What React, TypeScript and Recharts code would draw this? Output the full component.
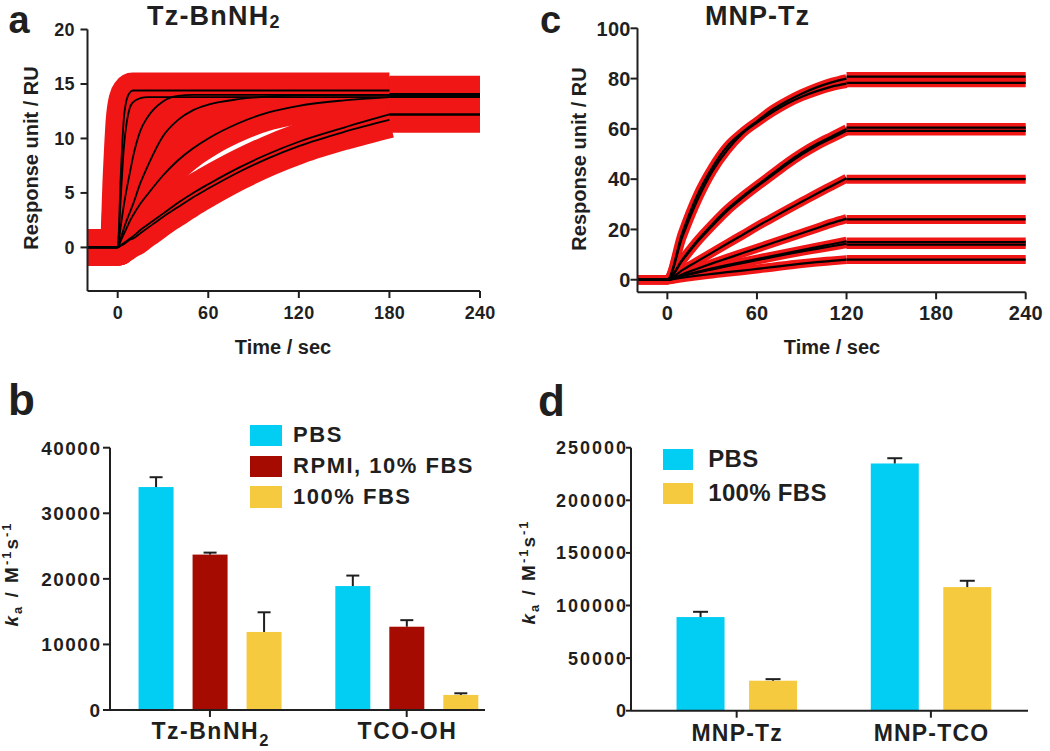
import React from 'react';
import { LineChart, Line, XAxis, YAxis, BarChart, Bar, Legend } from 'recharts';

const FONT = '"Liberation Sans", Arial, Helvetica, sans-serif';
const INK = '#1f1f1f';
const RED = '#f01616';
const CYAN = '#02CDF3';
const DARKRED = '#A60B02';
const YELLOW = '#F6CA3F';

// ---------- Panel a : Tz-BnNH2 sensorgram ----------
const timesA = [-20, 0, 2, 4, 6, 8, 10, 15, 20, 30, 40, 50, 60, 80, 100, 120, 150, 180];
const fitA1 = [0, 0, 6.5, 11.7, 13.6, 14.2, 14.4, 14.4, 14.4, 14.4, 14.4, 14.4, 14.4, 14.4, 14.4, 14.4, 14.4, 14.4];
const fitA2 = [0, 0, 4.5, 9.0, 11.5, 12.8, 13.3, 13.7, 13.8, 13.8, 13.8, 13.8, 13.8, 13.8, 13.8, 13.8, 13.8, 13.8];
const fitA3 = [0, 0, 1.9, 3.8, 5.4, 6.8, 8.2, 10.7, 12.0, 13.4, 13.9, 14.0, 14.0, 14.0, 14.0, 14.0, 14.0, 14.0];
const fitA4 = [0, 0, 0.8, 1.7, 2.5, 3.2, 3.9, 5.9, 7.5, 10.2, 11.7, 12.6, 13.1, 13.6, 13.85, 13.95, 14.0, 14.0];
const fitA5 = [0, 0, 0.6, 1.2, 1.8, 2.4, 2.9, 4.0, 4.9, 6.6, 8.0, 9.1, 10.0, 11.4, 12.4, 13.0, 13.5, 13.8];
const fitA6 = [0, 0, 0.2, 0.4, 0.6, 0.8, 1.0, 1.6, 2.1, 3.1, 4.1, 5.0, 5.8, 7.3, 8.6, 9.7, 11.0, 12.2];
const fitA7 = [0, 0, 0.15, 0.3, 0.5, 0.7, 0.8, 1.3, 1.8, 2.8, 3.7, 4.6, 5.4, 6.9, 8.2, 9.3, 10.6, 11.7];
const fitsA = [fitA1, fitA2, fitA3, fitA4, fitA5, fitA6, fitA7];
const dissTimesA = [180, 240];
const dissA = [14.1, 13.9, 14.0, 13.9, 13.8, 12.2, 12.2];
const yTicksA = [0, 5, 10, 15, 20];
const xTicksTime = [0, 60, 120, 180, 240];

// ---------- Panel c : MNP-Tz sensorgram ----------
const timesC = [-20, 0, 10, 20, 30, 40, 50, 60, 70, 80, 90, 100, 110, 120];
const fitC1 = [0, 0, 18.5, 33.5, 44.5, 53, 58.5, 63, 67.5, 71, 74, 76.5, 78.5, 80];
const fitC2 = [0, 0, 17, 31.5, 43, 51.5, 58, 62.5, 66.5, 70, 72.8, 75, 76.8, 78];
const fitC3 = [0, 0, 8, 15.5, 22, 28, 33, 37.5, 42, 46.5, 50.5, 54, 57, 60];
const fitC4 = [0, 0, 7.6, 15, 21.4, 27.4, 32.4, 37, 41.4, 45.8, 49.8, 53.3, 56.3, 59.2];
const fitC5 = [0, 0, 3.8, 7.3, 10.8, 14.3, 17.7, 21.2, 24.5, 27.8, 31, 34.2, 37.3, 40.4];
const fitC6 = [0, 0, 2.2, 4.4, 6.5, 8.5, 10.5, 12.5, 14.5, 16.5, 18.5, 20.5, 22.5, 24.3];
const fitC7 = [0, 0, 1.6, 3.1, 4.5, 5.8, 7, 8.2, 9.4, 10.6, 11.8, 13, 14.1, 15.3];
const fitC8 = [0, 0, 1.4, 2.8, 4.1, 5.4, 6.6, 7.8, 9, 10.2, 11.3, 12.3, 13.3, 14.3];
const fitC9 = [0, 0, 0.8, 1.6, 2.3, 3, 3.6, 4.3, 5, 5.7, 6.4, 7, 7.5, 8];
const fitsC = [fitC1, fitC2, fitC3, fitC4, fitC5, fitC6, fitC7, fitC8, fitC9];
const dissTimesC = [120, 240];
const dissC = [80.8, 78.3, 60.5, 59.2, 40, 24, 15, 14, 8];
const yTicksC = [0, 20, 40, 60, 80, 100];

// ---------- Panel b : ka bars ----------
const categoriesB = ['Tz-BnNH2', 'TCO-OH'];
const seriesNamesB = ['PBS', 'RPMI, 10% FBS', '100% FBS'];
const pbsB = [34000, 18900];
const pbsErrB = [1500, 1600];
const rpmiB = [23700, 12700];
const rpmiErrB = [300, 1000];
const fbsB = [11900, 2300];
const fbsErrB = [3000, 250];
const yTicksB = [0, 10000, 20000, 30000, 40000];

// ---------- Panel d : ka bars ----------
const categoriesD = ['MNP-Tz', 'MNP-TCO'];
const seriesNamesD = ['PBS', '100% FBS'];
const pbsD = [89000, 235000];
const pbsErrD = [5000, 5000];
const fbsD = [28500, 117500];
const fbsErrD = [1500, 6000];
const yTicksD = [0, 50000, 100000, 150000, 200000, 250000];

// ---------- tables ----------
function buildSensorRows(times: number[], fits: number[][], dissTimes: number[], diss: number[]) {
  const rows: any[] = times.map((t, i) => {
    const r: any = { t };
    fits.forEach((f, k) => { r['f' + k] = f[i]; });
    return r;
  });
  dissTimes.forEach((t) => {
    const r: any = { t };
    diss.forEach((v, k) => { r['d' + k] = v; });
    rows.push(r);
  });
  return rows;
}
const rowsA = buildSensorRows(timesA, fitsA, dissTimesA, dissA);
const rowsC = buildSensorRows(timesC, fitsC, dissTimesC, dissC);

const rowsB = categoriesB.map((name, i) => ({
  pos: i, name,
  pbs: pbsB[i], pbsErr: pbsErrB[i],
  rpmi: rpmiB[i], rpmiErr: rpmiErrB[i],
  fbs: fbsB[i], fbsErr: fbsErrB[i],
}));
const rowsD = categoriesD.map((name, i) => ({
  pos: i, name,
  pbs: pbsD[i], pbsErr: pbsErrD[i],
  fbs: fbsD[i], fbsErr: fbsErrD[i],
}));

// ---------- renderers ----------
const numTick = (fontSize: number, ls: number, axis: 'x' | 'y') => (p: any) => {
  const anchor = axis === 'y' ? 'end' : 'middle';
  const dx = axis === 'y' ? ls : ls / 2;
  const y = axis === 'y' ? p.y + fontSize * 0.36 : p.y + fontSize * 0.72;
  return (
    <text x={p.x + dx} y={y} textAnchor={anchor} fontFamily={FONT} fontWeight={700}
      fontSize={fontSize} letterSpacing={ls} fill={INK}>
      {p.payload.value}
    </text>
  );
};

const formulaParts = (s: string) => {
  const parts: { text: string; sub: boolean }[] = [];
  for (let i = 0; i < s.length; i++) {
    const ch = s[i];
    const prevSub = parts.length > 0 && parts[parts.length - 1].sub;
    const isSub = /\d/.test(ch) && i > 0 && (/[A-Za-z]/.test(s[i - 1]) || (prevSub && /\d/.test(s[i - 1])));
    const last = parts[parts.length - 1];
    if (last && last.sub === isSub) last.text += ch;
    else parts.push({ text: ch, sub: isSub });
  }
  return parts;
};

const catTick = (cats: string[], fontSize: number, ls: number) => (p: any) => {
  const label = cats[Math.round(p.payload.value)] ?? '';
  const parts = formulaParts(label);
  let shifted = false;
  return (
    <text x={p.x + ls / 2} y={p.y + fontSize * 0.72} textAnchor="middle" fontFamily={FONT} fontWeight={700}
      fontSize={fontSize} letterSpacing={ls} fill={INK}>
      {parts.map((pt, i) => {
        let dy: number | undefined = undefined;
        if (pt.sub && !shifted) { dy = fontSize * 0.33; shifted = true; }
        else if (!pt.sub && shifted) { dy = -fontSize * 0.33; shifted = false; }
        return (
          <tspan key={i} dy={dy} fontSize={pt.sub ? fontSize * 0.72 : fontSize}>{pt.text}</tspan>
        );
      })}
    </text>
  );
};

const barWithError = (valueKey: string, errKey: string, cap: number) => (props: any) => {
  const { x, y, width, height, fill, payload } = props;
  const value = payload ? payload[valueKey] : 0;
  const err = payload ? payload[errKey] : 0;
  const pxPer = value ? height / value : 0;
  const cx = x + width / 2;
  const top = y - err * pxPer;
  return (
    <g>
      <rect x={x} y={y} width={width} height={height} fill={fill} />
      <line x1={cx} y1={y} x2={cx} y2={top} stroke={INK} strokeWidth={2} />
      <line x1={cx - cap} y1={top} x2={cx + cap} y2={top} stroke={INK} strokeWidth={2} />
    </g>
  );
};

const legendContent = (order: string[], sw: number, sh: number, rowH: number, gap: number, fontSize: number, ls: number) => (props: any) => {
  const payload = [...(props.payload || [])].sort((a: any, b: any) => order.indexOf(a.value) - order.indexOf(b.value));
  return (
    <div style={{ fontFamily: FONT }}>
      {payload.map((p: any, i: number) => (
        <div key={i} style={{ display: 'flex', alignItems: 'center', height: rowH }}>
          <span style={{ display: 'inline-block', width: sw, height: sh, background: p.color, marginRight: gap }} />
          <span style={{ fontSize, fontWeight: 700, letterSpacing: ls, lineHeight: fontSize + 'px', color: INK, whiteSpace: 'nowrap' }}>
            {p.value}
          </span>
        </div>
      ))}
    </div>
  );
};

const axisLineStyle = { stroke: INK, strokeWidth: 2 };

function SensorChart(props: {
  rows: any[]; nFits: number; nDiss: number; width: number; height: number; margin: any;
  yWidth: number; yDomain: [number, number]; yTicks: number[]; redWidth: number; blackWidth: number;
  yTickFont: number; xTickFont: number; yTickMargin: number; xTickMargin: number;
}) {
  const fitKeys = Array.from({ length: props.nFits }, (_, k) => 'f' + k);
  const dissKeys = Array.from({ length: props.nDiss }, (_, k) => 'd' + k);
  const keys = [...fitKeys, ...dissKeys];
  return (
    <LineChart width={props.width} height={props.height} data={props.rows} margin={props.margin}>
      <XAxis dataKey="t" type="number" domain={[-20, 240]} ticks={xTicksTime} height={40}
        axisLine={axisLineStyle} tickLine={axisLineStyle} tickSize={7} tickMargin={props.xTickMargin}
        tick={numTick(props.xTickFont, 0.3, 'x')} />
      <YAxis type="number" domain={props.yDomain} ticks={props.yTicks} width={props.yWidth}
        axisLine={axisLineStyle} tickLine={axisLineStyle} tickSize={7} tickMargin={props.yTickMargin}
        tick={numTick(props.yTickFont, 0.3, 'y')} />
      {keys.map((k) => (
        <Line key={'r' + k} type="monotone" dataKey={k} stroke={RED} strokeWidth={props.redWidth}
          strokeLinejoin="round" dot={false} activeDot={false} isAnimationActive={false} legendType="none" />
      ))}
      {keys.map((k) => (
        <Line key={'b' + k} type="monotone" dataKey={k} stroke="#000" strokeWidth={props.blackWidth}
          strokeLinejoin="round" dot={false} activeDot={false} isAnimationActive={false} legendType="none" />
      ))}
    </LineChart>
  );
}

const letterStyle = (left: number, top: number, size: number): React.CSSProperties => ({
  position: 'absolute', left, top, fontSize: size, lineHeight: size + 'px', fontWeight: 700,
  fontFamily: FONT, color: INK, whiteSpace: 'nowrap',
});

export default function App() {
  return (
    <div style={{ position: 'absolute', left: 0, top: 0, width: 1050, height: 751, background: '#fff', overflow: 'hidden', fontFamily: FONT }}>
      {/* Panel a */}
      <div style={{ position: 'absolute', left: 0, top: 0 }}>
        <SensorChart rows={rowsA} nFits={fitsA.length} nDiss={dissA.length} width={500} height={340}
          margin={{ top: 29.5, right: 20, bottom: 9, left: 0 }} yWidth={87.5} yDomain={[-4, 20]} yTicks={yTicksA}
          redWidth={36} blackWidth={1.8} yTickFont={18} xTickFont={18} yTickMargin={6} xTickMargin={8} />
      </div>
      {/* Panel c */}
      <div style={{ position: 'absolute', left: 520, top: 0 }}>
        <SensorChart rows={rowsC} nFits={fitsC.length} nDiss={dissC.length} width={530} height={340}
          margin={{ top: 28.3, right: 24.3, bottom: 7.7, left: 0 }} yWidth={117.5} yDomain={[-5, 100]} yTicks={yTicksC}
          redWidth={9} blackWidth={2.2} yTickFont={20} xTickFont={20} yTickMargin={0} xTickMargin={6} />
      </div>
      {/* Panel b */}
      <div style={{ position: 'absolute', left: 0, top: 370 }}>
        <BarChart width={520} height={381} data={rowsB} margin={{ top: 77.7, right: 35, bottom: 1, left: 0 }}
          barSize={35} barGap={19}>
          <XAxis dataKey="pos" type="number" domain={[-0.508, 1.398]} ticks={[0, 1]} height={40}
            axisLine={axisLineStyle} tickLine={axisLineStyle} tickSize={7} tickMargin={5}
            tick={catTick(categoriesB, 23, 1.5)} />
          <YAxis type="number" domain={[0, 40000]} ticks={yTicksB} width={110}
            axisLine={axisLineStyle} tickLine={axisLineStyle} tickSize={7} tickMargin={3}
            tick={numTick(19, 1.5, 'y')} />
          <Bar dataKey="pbs" name={seriesNamesB[0]} fill={CYAN} isAnimationActive={false} shape={barWithError('pbs', 'pbsErr', 6.5)} />
          <Bar dataKey="rpmi" name={seriesNamesB[1]} fill={DARKRED} isAnimationActive={false} shape={barWithError('rpmi', 'rpmiErr', 6.5)} />
          <Bar dataKey="fbs" name={seriesNamesB[2]} fill={YELLOW} isAnimationActive={false} shape={barWithError('fbs', 'fbsErr', 6.5)} />
          <Legend layout="vertical" align="center" verticalAlign="middle"
            wrapperStyle={{ left: 250, top: 50.1, width: 'auto', height: 'auto' }}
            content={legendContent(seriesNamesB, 31.5, 21.5, 30.8, 11.6, 22, 1.5)} />
        </BarChart>
      </div>
      {/* Panel d */}
      <div style={{ position: 'absolute', left: 520, top: 370 }}>
        <BarChart width={530} height={381} data={rowsD} margin={{ top: 77.7, right: 22, bottom: 0.3, left: 0 }}
          barSize={48} barGap={24.5}>
          <XAxis dataKey="pos" type="number" domain={[-0.544, 1.5]} ticks={[0, 1]} height={40}
            axisLine={axisLineStyle} tickLine={axisLineStyle} tickSize={7} tickMargin={7}
            tick={catTick(categoriesD, 23, 1.2)} />
          <YAxis type="number" domain={[0, 250000]} ticks={yTicksD} width={111}
            axisLine={axisLineStyle} tickLine={axisLineStyle} tickSize={5} tickMargin={0}
            tick={numTick(18, 2, 'y')} />
          <Bar dataKey="pbs" name={seriesNamesD[0]} fill={CYAN} isAnimationActive={false} shape={barWithError('pbs', 'pbsErr', 7.5)} />
          <Bar dataKey="fbs" name={seriesNamesD[1]} fill={YELLOW} isAnimationActive={false} shape={barWithError('fbs', 'fbsErr', 7.5)} />
          <Legend layout="vertical" align="center" verticalAlign="middle"
            wrapperStyle={{ left: 143.3, top: 72.2, width: 'auto', height: 'auto' }}
            content={legendContent(seriesNamesD, 30, 20.5, 34.2, 15, 24, 0.3)} />
        </BarChart>
      </div>

      {/* Panel letters (kept fully inside the page) */}
      <div style={letterStyle(8.5, 0.5, 38)}>a</div>
      <div style={letterStyle(8, 378, 44)}>b</div>
      <div style={letterStyle(540, 0.5, 38)}>c</div>
      <div style={letterStyle(538, 379, 44)}>d</div>

      {/* Titles and axis titles */}
      <svg width={1050} height={751} style={{ position: 'absolute', left: 0, top: 0, pointerEvents: 'none' }}
        fontFamily={FONT} fontWeight={700} fill={INK}>
        <text x={147} y={24.5} fontSize={27} letterSpacing={1.2}>
          Tz-BnNH<tspan fontSize={18} dy={3}>2</tspan>
        </text>
        <text x={705} y={24.5} fontSize={27} letterSpacing={1}>MNP-Tz</text>

        <text x={283} y={354} fontSize={20} textAnchor="middle">Time / sec</text>
        <text x={832} y={353.5} fontSize={20} textAnchor="middle">Time / sec</text>
        <text transform="translate(37.5,158) rotate(-90)" fontSize={20} textAnchor="middle">Response unit / RU</text>
        <text transform="translate(586,159) rotate(-90)" fontSize={20} textAnchor="middle">Response unit / RU</text>

        <text transform="translate(18.3,574) rotate(-90)" fontSize={19} letterSpacing={2} textAnchor="middle">
          <tspan fontStyle="italic">k</tspan>
          <tspan fontSize={13} dy={4}>a</tspan>
          <tspan dy={-4}> / M</tspan>
          <tspan fontSize={13} dy={-7}>-1</tspan>
          <tspan dy={7}>s</tspan>
          <tspan fontSize={13} dy={-7}>-1</tspan>
        </text>
        <text transform="translate(535,572) rotate(-90)" fontSize={19} letterSpacing={2} textAnchor="middle">
          <tspan fontStyle="italic">k</tspan>
          <tspan fontSize={13} dy={4}>a</tspan>
          <tspan dy={-4}> / M</tspan>
          <tspan fontSize={13} dy={-7}>-1</tspan>
          <tspan dy={7}>s</tspan>
          <tspan fontSize={13} dy={-7}>-1</tspan>
        </text>
      </svg>
    </div>
  );
}
